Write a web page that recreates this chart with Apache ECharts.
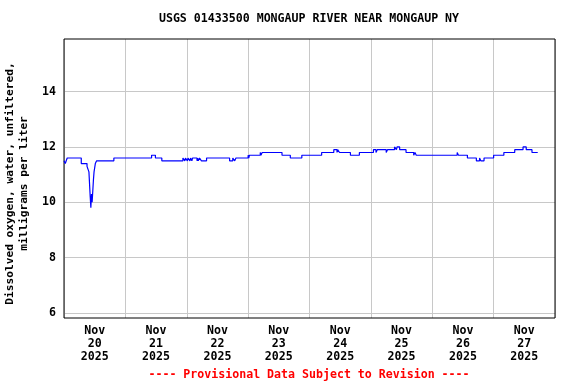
<!DOCTYPE html>
<html>
<head>
<meta charset="utf-8">
<script src="https://cdn.jsdelivr.net/npm/echarts@6/dist/echarts.min.js"></script>
<style>html,body{margin:0;padding:0;background:#fff}#c{width:576px;height:384px}</style>
</head>
<body>
<div id="c"></div>
<script>
const titleText = 'USGS 01433500 MONGAUP RIVER NEAR MONGAUP NY';
const yAxisTitle = 'Dissolved oxygen, water, unfiltered,\nmilligrams per liter';
const footnote = '---- Provisional Data Subject to Revision ----';
const dayStarts = ['2025-11-20','2025-11-21','2025-11-22','2025-11-23','2025-11-24','2025-11-25','2025-11-26','2025-11-27','2025-11-28'];
const yTicks = [6, 8, 10, 12, 14];
const monthNames = ['Jan','Feb','Mar','Apr','May','Jun','Jul','Aug','Sep','Oct','Nov','Dec'];

const times = [
 '2025-11-20 00:00','2025-11-20 00:30','2025-11-20 01:15','2025-11-20 06:45','2025-11-20 09:00','2025-11-20 09:45',
 '2025-11-20 10:15','2025-11-20 10:30','2025-11-20 10:45','2025-11-20 11:00','2025-11-20 11:15','2025-11-20 11:30',
 '2025-11-20 11:45','2025-11-20 12:15','2025-11-20 12:45','2025-11-20 19:30',
 '2025-11-21 10:15','2025-11-21 11:45','2025-11-21 14:15','2025-11-21 22:30','2025-11-21 23:15','2025-11-21 23:30',
 '2025-11-22 00:15','2025-11-22 00:30','2025-11-22 01:15','2025-11-22 01:30','2025-11-22 02:00','2025-11-22 02:15',
 '2025-11-22 04:00','2025-11-22 04:15','2025-11-22 04:30','2025-11-22 05:00','2025-11-22 05:45','2025-11-22 07:45',
 '2025-11-22 16:45','2025-11-22 18:00','2025-11-22 18:45','2025-11-22 19:15',
 '2025-11-23 00:00','2025-11-23 00:15','2025-11-23 00:30','2025-11-23 04:45','2025-11-23 05:00','2025-11-23 05:30',
 '2025-11-23 13:15','2025-11-23 16:30','2025-11-23 21:00',
 '2025-11-24 04:45','2025-11-24 09:30','2025-11-24 10:45','2025-11-24 11:00','2025-11-24 11:45','2025-11-24 16:00',
 '2025-11-24 19:30',
 '2025-11-25 01:00','2025-11-25 02:00','2025-11-25 02:30','2025-11-25 06:00','2025-11-25 06:30','2025-11-25 09:15',
 '2025-11-25 10:00','2025-11-25 10:15','2025-11-25 11:15','2025-11-25 13:45','2025-11-25 16:45','2025-11-25 17:15',
 '2025-11-25 17:45',
 '2025-11-26 09:45','2025-11-26 10:15','2025-11-26 13:45','2025-11-26 17:15','2025-11-26 18:30','2025-11-26 19:00',
 '2025-11-26 20:15',
 '2025-11-27 00:00','2025-11-27 04:00','2025-11-27 08:15','2025-11-27 11:30','2025-11-27 12:45','2025-11-27 15:00',
 '2025-11-27 17:15'
];
const values = [
 11.5, 11.4, 11.6, 11.4, 11.3, 11.1,
 10.2, 9.8, 10.3, 10.0, 10.4, 10.8,
 11.1, 11.4, 11.5, 11.6,
 11.7, 11.6, 11.5, 11.6, 11.5, 11.6,
 11.5, 11.6, 11.5, 11.6, 11.5, 11.6,
 11.5, 11.6, 11.5, 11.6, 11.5, 11.6,
 11.5, 11.6, 11.5, 11.6,
 11.7, 11.6, 11.7, 11.8, 11.7, 11.8,
 11.7, 11.6, 11.7,
 11.8, 11.9, 11.8, 11.9, 11.8, 11.7,
 11.8,
 11.9, 11.8, 11.9, 11.8, 11.9, 12.0,
 11.9, 12.0, 11.9, 11.8, 11.7, 11.8,
 11.7,
 11.8, 11.7, 11.6, 11.5, 11.6, 11.5,
 11.6,
 11.7, 11.8, 11.9, 12.0, 11.9, 11.8,
 11.8
];

function parseStamp(s) {
  const parts = s.split(' ');
  const d = parts[0].split('-').map(Number);
  const t = (parts[1] || '00:00').split(':').map(Number);
  return new Date(d[0], d[1] - 1, d[2], t[0], t[1], 0).getTime();
}
const midnights = dayStarts.map(d => parseStamp(d + ' 00:00'));
const noons = dayStarts.slice(0, -1).map(d => parseStamp(d + ' 12:00'));
const seriesData = times.map((t, i) => [parseStamp(t), values[i]]);

const FONT = '"DejaVu Sans Mono", monospace';
const chart = echarts.init(document.getElementById('c'), null, {renderer: 'canvas'});
chart.setOption({
  animation: false,
  backgroundColor: '#fff',
  grid: {left: 64, right: 21, top: 39, bottom: 66, outerBoundsMode: 'none', containLabel: false, show: true, borderColor: '#000', borderWidth: 1, backgroundColor: 'transparent', z: 3},
  graphic: [
    {type: 'text', x: 309, y: 19, style: {text: titleText, textAlign: 'center', textVerticalAlign: 'middle', fill: '#000', font: 'bold 11.6px ' + FONT}},
    {type: 'text', x: 309, y: 375, style: {text: footnote, textAlign: 'center', textVerticalAlign: 'middle', fill: '#ff0000', font: 'bold 11.6px ' + FONT}}
  ],
  xAxis: {
    type: 'value',
    min: midnights[0],
    max: midnights[midnights.length - 1],
    axisLine: {show: false},
    axisTick: {show: false, customValues: midnights},
    splitLine: {show: true, lineStyle: {color: '#c8c8c8', width: 1}},
    axisLabel: {
      customValues: noons,
      margin: 6,
      color: '#000',
      fontFamily: FONT,
      fontWeight: 'bold',
      fontSize: 11.6,
      lineHeight: 13,
      formatter: function (v) {
        const d = new Date(v);
        return monthNames[d.getMonth()] + '\n' + d.getDate() + '\n' + d.getFullYear();
      }
    }
  },
  yAxis: {
    type: 'value',
    min: 5.82,
    max: 15.9,
    name: yAxisTitle,
    nameLocation: 'middle',
    nameRotate: 90,
    nameGap: 29,
    nameTextStyle: {color: '#000', fontFamily: FONT, fontWeight: 'bold', fontSize: 11.2, lineHeight: 14, align: 'center', padding: [0, 10, 0, 0]},
    axisLine: {show: false},
    axisTick: {show: false, customValues: yTicks},
    splitLine: {show: true, lineStyle: {color: '#c8c8c8', width: 1}},
    axisLabel: {customValues: yTicks, margin: 8, color: '#000', fontFamily: FONT, fontWeight: 'bold', fontSize: 11.6}
  },
  series: [{
    type: 'line',
    data: seriesData,
    step: 'end',
    showSymbol: false,
    symbol: 'none',
    lineStyle: {color: '#0000ff', width: 1.2},
    silent: true
  }]
});
</script>
</body>
</html>
